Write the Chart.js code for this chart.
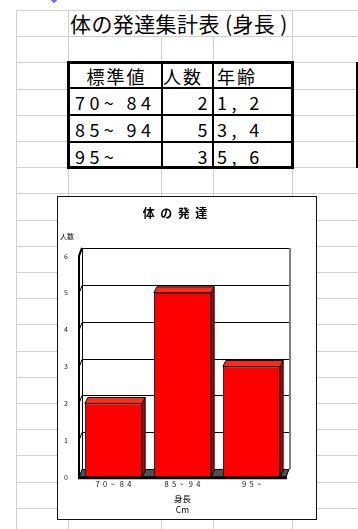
<!DOCTYPE html>
<html>
<head>
<meta charset="utf-8">
<script src="https://cdn.jsdelivr.net/npm/chart.js@4"></script>
<style>
  body { margin: 0; width: 358px; height: 529px; position: relative; overflow: hidden; background: #fff;
         font-family: "Noto Sans CJK JP", sans-serif; }
  .h { position: absolute; left: 16px; right: 0; height: 1px; background: #d0d0d0; }
  .v { position: absolute; width: 1px; bottom: 0; background: #d0d0d0; }
  #mark { position: absolute; left: 51px; top: -4px; width: 6px; height: 6px; background: #7f5cf2; transform: rotate(45deg); }
  #sheetTitle { position: absolute; left: 70px; top: 10px; height: 26px; line-height: 26px; font-size: 21px;
                letter-spacing: 0.4px; white-space: nowrap; }
  #tbl { position: absolute; left: 67px; top: 61px; width: 221px; height: 102px; border: 3px solid #000;
         display: grid; grid-template-columns: 91px 49px 77px; grid-template-rows: 23px 25px 25px 23px;
         gap: 2px; background: #000; }
  #tbl div { background: #fff; font-size: 18px; letter-spacing: 4.4px; white-space: nowrap; overflow: hidden; }
  #tbl .hd { line-height: 24px; letter-spacing: 2px; }
  #tbl .dt { line-height: 27px; }
  #edge { position: absolute; left: 356px; top: 62px; width: 2px; height: 106px; background: #000; }
  #box { position: absolute; left: 57px; top: 196px; width: 258px; height: 322px; border: 1px solid #111; background: #fff; }
</style>
</head>
<body>
<div id="mark"></div>
<div id="sheetTitle"></div>
<div id="tbl"></div>
<div id="edge"></div>
<div id="box"><canvas id="chart"></canvas></div>
<script>
const sheetTitle = '体の発達集計表 (身長 )';
const tableHeaders = ['標準値', '人数', '年齢'];
const categories = ['70~ 84', '85~ 94', '95~'];
const counts = [2, 5, 3];
const ages = ['1, 2', '3, 4', '5, 6'];
const yMax = 6;
const chartTitle = '体の発達';
const yAxisTitle = '人数';
const xAxisTitle = ['身長', 'Cm'];

// spreadsheet grid
const rowLines = [];
for (let i = 0; i < 20; i++) rowLines.push(Math.round(10 + i * 26.2));
rowLines.forEach(y => {
    const d = document.createElement('div');
    d.className = 'h';
    d.style.top = y + 'px';
    document.body.prepend(d);
});
[[16, 10], [68, 10], [161, 36], [213, 36], [292, 10]].forEach(([x, top]) => {
    const d = document.createElement('div');
    d.className = 'v';
    d.style.left = x + 'px';
    d.style.top = top + 'px';
    document.body.prepend(d);
});

document.getElementById('sheetTitle').textContent = sheetTitle;

// summary table
const tbl = document.getElementById('tbl');
function cell(text, cls, style) {
    const d = document.createElement('div');
    d.className = cls;
    d.textContent = text;
    d.style.cssText = style;
    tbl.appendChild(d);
}
cell(tableHeaders[0], 'hd', 'text-align:center;padding-left:2px');
cell(tableHeaders[1], 'hd', 'padding-left:0');
cell(tableHeaders[2], 'hd', 'padding-left:3px');
categories.forEach((c, i) => {
    cell(c, 'dt', 'padding-left:5px');
    cell(String(counts[i]), 'dt', 'text-align:right');
    cell(ages[i], 'dt', 'padding-left:3px');
});

// wide character spacing, as in the sheet's chart text
const spaced = (s, gap, wordGap) => s.split(' ').map(w => w.split('').join(gap)).join(wordGap);

// fake 3D: walls, floor, bar sides and tops
const depth3d = {
    id: 'depth3d',
    beforeDatasetsDraw(chart) {
        const { ctx, chartArea: a, scales: { y } } = chart;
        const wx = 3, wy = 8;
        ctx.save();
        ctx.fillStyle = '#505050';
        ctx.beginPath();
        ctx.moveTo(a.left, a.bottom);
        ctx.lineTo(a.left + wx, a.bottom - wy);
        ctx.lineTo(a.right + wx, a.bottom - wy);
        ctx.lineTo(a.right, a.bottom);
        ctx.closePath();
        ctx.fill();

        ctx.strokeStyle = '#000';
        ctx.lineWidth = 1;
        y.ticks.forEach(t => {
            const py = Math.round(y.getPixelForValue(t.value)) + 0.5;
            ctx.beginPath();
            ctx.moveTo(a.left, py);
            ctx.lineTo(a.left + wx, py - wy);
            ctx.lineTo(a.right + wx, py - wy);
            ctx.stroke();
        });
        ctx.beginPath();
        ctx.moveTo(a.left + wx + 0.5, a.top - wy);
        ctx.lineTo(a.left + wx + 0.5, a.bottom - wy);
        ctx.stroke();

        ctx.strokeStyle = '#808080';
        ctx.lineWidth = 2;
        ctx.beginPath();
        ctx.moveTo(a.right + wx + 1, a.top - wy);
        ctx.lineTo(a.right + wx + 1, a.bottom - wy);
        ctx.stroke();
        ctx.restore();
    },
    afterDatasetsDraw(chart) {
        const { ctx, chartArea: a } = chart;
        const bx = 3, by = 6;
        ctx.save();
        ctx.strokeStyle = '#000';
        ctx.lineWidth = 1;
        chart.getDatasetMeta(0).data.forEach(bar => {
            const { x, y, base, width } = bar.getProps(['x', 'y', 'base', 'width'], true);
            const l = x - width / 2, r = x + width / 2;
            ctx.fillStyle = '#c00000';
            ctx.beginPath();
            ctx.moveTo(r, y);
            ctx.lineTo(r + bx, y - by);
            ctx.lineTo(r + bx, base - by);
            ctx.lineTo(r, base);
            ctx.closePath();
            ctx.fill();
            ctx.stroke();
            ctx.fillStyle = '#ff2a1a';
            ctx.beginPath();
            ctx.moveTo(l, y);
            ctx.lineTo(l + bx, y - by);
            ctx.lineTo(r + bx, y - by);
            ctx.lineTo(r, y);
            ctx.closePath();
            ctx.fill();
            ctx.stroke();
        });

        // front edges
        ctx.lineWidth = 3;
        ctx.beginPath();
        ctx.moveTo(a.left - 1, a.bottom + 0.5);
        ctx.lineTo(a.right + 1, a.bottom + 0.5);
        ctx.stroke();
        ctx.lineWidth = 2;
        ctx.beginPath();
        ctx.moveTo(a.left + 3, a.top - 8);
        ctx.lineTo(a.left, a.top);
        ctx.lineTo(a.left, a.bottom);
        ctx.stroke();
        ctx.lineWidth = 1;
        ctx.beginPath();
        ctx.moveTo(a.right, a.bottom);
        ctx.lineTo(a.right + 3, a.bottom - 8);
        ctx.stroke();

        ctx.fillStyle = '#000';
        ctx.font = '7px "Noto Sans CJK JP"';
        ctx.textAlign = 'left';
        ctx.textBaseline = 'middle';
        ctx.fillText(yAxisTitle, a.left - 19, a.top - 20);
        ctx.restore();
    }
};

Chart.defaults.font.family = '"Noto Sans CJK JP", sans-serif';
Chart.defaults.color = '#000';

new Chart(document.getElementById('chart'), {
    type: 'bar',
    data: {
        labels: categories,
        datasets: [{
            data: counts,
            backgroundColor: '#ff0000',
            borderColor: '#000',
            borderWidth: 1,
            barPercentage: 0.83,
            categoryPercentage: 1
        }]
    },
    options: {
        responsive: true,
        maintainAspectRatio: false,
        animation: false,
        layout: { padding: { left: 6, right: 30, top: 0, bottom: 1 } },
        plugins: {
            legend: { display: false },
            tooltip: { enabled: false },
            title: {
                display: true,
                text: spaced(chartTitle, '  ', '  '),
                font: { size: 12, weight: 'bold' },
                padding: { top: 9.5, bottom: 35 }
            }
        },
        scales: {
            x: {
                grid: { display: false, drawTicks: false },
                border: { display: false },
                ticks: { padding: 2, font: { size: 7.5 }, color: '#111',
                         callback: (v, i) => spaced(categories[i], '  ', '   ') },
                title: { display: true, text: xAxisTitle, font: { size: 8.5 }, padding: { top: 3.9, bottom: 3.5 } },
                afterFit: s => { s.paddingLeft = 0; s.paddingRight = 0; }
            },
            y: {
                min: 0,
                max: yMax,
                grid: { display: false, drawTicks: false },
                border: { display: false },
                ticks: { stepSize: 1, padding: 11, font: { size: 7 }, color: '#222' },
                afterFit: s => { s.width = 15; }
            }
        }
    },
    plugins: [depth3d]
});
</script>
</body>
</html>
